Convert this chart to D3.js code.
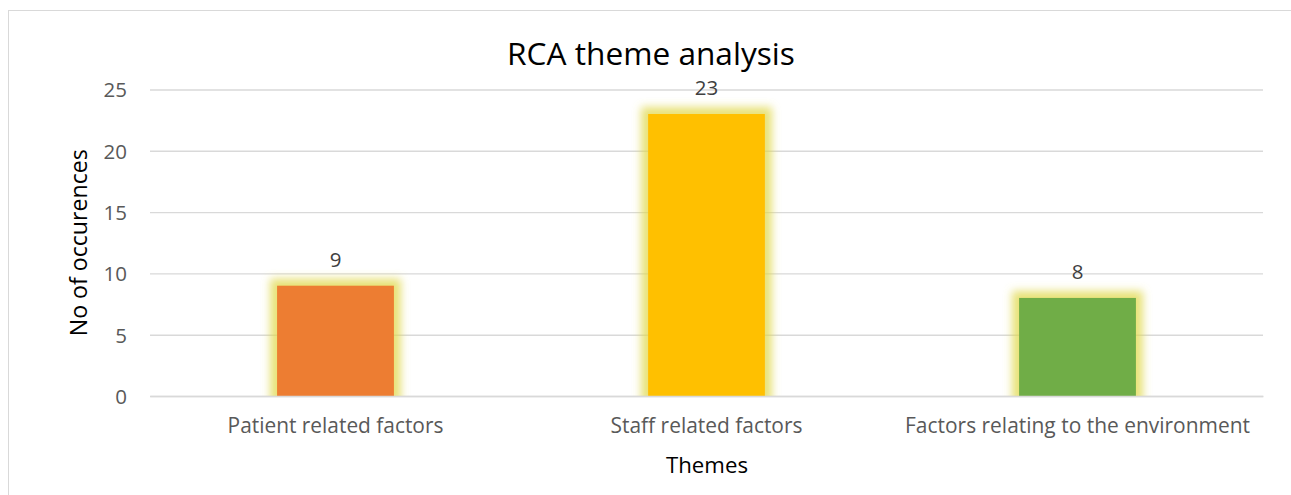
<!DOCTYPE html>
<html>
<head>
<meta charset="utf-8">
<script src="https://cdn.jsdelivr.net/npm/d3@7"></script>
<style>
  html, body { margin: 0; padding: 0; background: #fff; }
  svg { display: block; font-family: "Open Sans", "Noto Sans", sans-serif; }
</style>
</head>
<body>
<svg id="chart" width="1291" height="495"></svg>
<script>
// Chart content
const chartTitle = "RCA theme analysis";
const xAxisTitle = "Themes";
const yAxisTitle = "No of occurences";
const categories = ["Patient related factors", "Staff related factors", "Factors relating to the environment"];
const occurrences = [9, 23, 8];
const barColors = ["#ED7D31", "#FFC000", "#70AD47"];
const yTicks = [0, 5, 10, 15, 20, 25];

const svg = d3.select("#chart");
const plot = { left: 150, right: 1263, top: 89.5, bottom: 396 };

const x = d3.scaleBand().domain(categories).range([plot.left, plot.right])
  .paddingInner(0.685).paddingOuter(0.3425);
const y = d3.scaleLinear().domain([0, 25]).range([plot.bottom, plot.top]);

// size a text element so it spans the given width
function fitWidth(sel, target) {
  sel.each(function () {
    const t = d3.select(this);
    const goal = typeof target === "function" ? target(t.datum()) : target;
    t.style("font-size", "100px");
    const w = this.getComputedTextLength();
    t.style("font-size", (100 * goal / w).toFixed(2) + "px");
  });
  return sel;
}

// chart frame
svg.append("rect").attr("x", 8.5).attr("y", 10.5).attr("width", 1300).attr("height", 520)
  .attr("fill", "none").attr("stroke", "#d9d9d9").attr("stroke-width", 1);

const defs = svg.append("defs");
const glow = defs.append("filter").attr("id", "glow")
  .attr("x", "-50%").attr("y", "-50%").attr("width", "200%").attr("height", "200%");
glow.append("feMorphology").attr("in", "SourceAlpha").attr("operator", "dilate").attr("radius", 7).attr("result", "grown");
glow.append("feGaussianBlur").attr("in", "grown").attr("stdDeviation", 4.5).attr("result", "soft");
glow.append("feFlood").attr("flood-color", "#e0d84a").attr("flood-opacity", 0.75).attr("result", "tint");
glow.append("feComposite").attr("in", "tint").attr("in2", "soft").attr("operator", "in").attr("result", "halo");
const merge = glow.append("feMerge");
merge.append("feMergeNode").attr("in", "halo");
merge.append("feMergeNode").attr("in", "SourceGraphic");

defs.append("clipPath").attr("id", "plotClip").append("rect")
  .attr("x", plot.left).attr("y", plot.top - 40)
  .attr("width", plot.right - plot.left).attr("height", plot.bottom - plot.top + 40);

// gridlines and y tick labels
const yAxis = svg.append("g").attr("transform", `translate(${plot.left},0)`)
  .call(d3.axisLeft(y).tickValues(yTicks).tickSize(-(plot.right - plot.left)).tickPadding(23));
yAxis.select(".domain").remove();
yAxis.selectAll(".tick line").attr("stroke", "#d9d9d9").attr("stroke-width", 1.4);
yAxis.selectAll(".tick text").attr("fill", "#595959").style("font-family", "'Open Sans', sans-serif")
  .style("font-size", "20.5px").attr("dy", "0.36em");

// bars with soft yellow glow
svg.append("g").attr("clip-path", "url(#plotClip)")
  .selectAll("rect").data(categories).join("rect")
  .attr("x", d => x(d)).attr("width", x.bandwidth())
  .attr("y", (d, i) => y(occurrences[i]))
  .attr("height", (d, i) => y(0) - y(occurrences[i]))
  .attr("fill", (d, i) => barColors[i])
  .attr("filter", "url(#glow)");

// x axis baseline and category labels
const labelWidths = { "Patient related factors": 216, "Staff related factors": 192, "Factors relating to the environment": 345 };
const xAxis = svg.append("g").attr("transform", `translate(0,${plot.bottom})`)
  .call(d3.axisBottom(x).tickSize(0).tickPadding(0));
xAxis.select(".domain").attr("stroke", "#d9d9d9").attr("stroke-width", 1.4);
xAxis.selectAll(".tick text").attr("fill", "#595959").attr("dy", 0).attr("y", 37)
  .style("font-family", "'Open Sans', sans-serif")
  .call(fitWidth, d => labelWidths[d]);

// value labels
svg.append("g").selectAll("text").data(categories).join("text")
  .attr("x", d => x(d) + x.bandwidth() / 2)
  .attr("y", (d, i) => y(occurrences[i]) - 19)
  .attr("text-anchor", "middle").attr("fill", "#404040")
  .style("font-size", "20.5px")
  .text((d, i) => occurrences[i]);

// titles
svg.append("text").attr("x", 651).attr("y", 65).attr("text-anchor", "middle")
  .attr("fill", "#000").text(chartTitle).call(fitWidth, 288);
svg.append("text").attr("x", 707).attr("y", 473).attr("text-anchor", "middle")
  .attr("fill", "#000").text(xAxisTitle).call(fitWidth, 82);
svg.append("text").attr("transform", `translate(87,${(plot.top + plot.bottom) / 2}) rotate(-90)`)
  .attr("text-anchor", "middle").attr("fill", "#000").text(yAxisTitle).call(fitWidth, 187);
</script>
</body>
</html>
